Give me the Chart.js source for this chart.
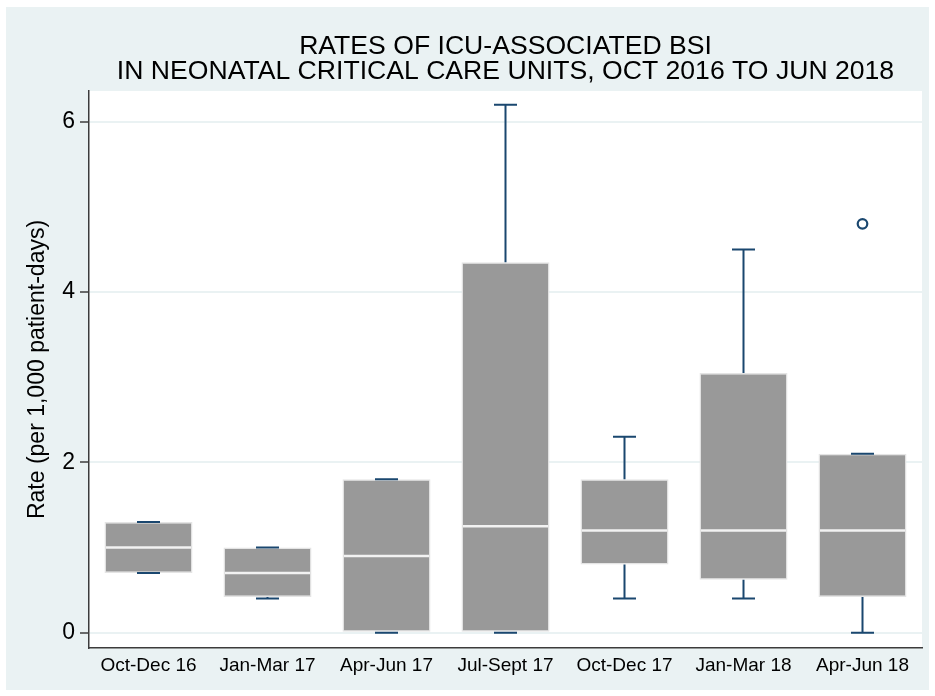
<!DOCTYPE html>
<html><head><meta charset="utf-8">
<script src="https://cdn.jsdelivr.net/npm/chart.js@4"></script>
<style>
html,body{margin:0;padding:0;background:#fff;}
#wrap{position:absolute;left:0;top:0;width:935px;height:696px;}
canvas{display:block;}
</style></head><body>
<div id="wrap"><canvas id="c" width="935" height="696"></canvas></div>
<script>
// ---- data ----
const categories = ['Oct-Dec 16','Jan-Mar 17','Apr-Jun 17','Jul-Sept 17','Oct-Dec 17','Jan-Mar 18','Apr-Jun 18'];
const whiskerLow  = [0.7, 0.4, 0.0, 0.0, 0.4, 0.4, 0.0];
const q1          = [0.7, 0.42, 0.0, 0.0, 0.8, 0.62, 0.42];
const median      = [1.0, 0.7, 0.9, 1.25, 1.2, 1.2, 1.2];
const q3          = [1.3, 1.0, 1.8, 4.35, 1.8, 3.05, 2.1];
const whiskerHigh = [1.3, 1.0, 1.8, 6.2, 2.3, 4.5, 2.1];
const outliers    = [null, null, null, null, null, null, 4.8];
const yTicks = [0, 2, 4, 6];
const titleLines = ['RATES OF ICU-ASSOCIATED BSI', 'IN NEONATAL CRITICAL CARE UNITS, OCT 2016 TO JUN 2018'];
const yTitle = 'Rate (per 1,000 patient-days)';

const FONT = '"Liberation Sans", Arial, Helvetica, sans-serif';
const NAVY = '#1a476f';
const BG = '#eaf2f3';

const bgPlugin = {
  id: 'bg',
  beforeDraw(chart) {
    const {ctx, chartArea: a} = chart;
    ctx.save();
    ctx.fillStyle = '#ffffff';
    ctx.fillRect(0, 0, chart.width, chart.height);
    ctx.fillStyle = BG;
    ctx.fillRect(6, 7, chart.width - 12, chart.height - 13);
    ctx.fillStyle = '#ffffff';
    ctx.fillRect(a.left, a.top, a.right - a.left, a.bottom - a.top);
    ctx.restore();
  }
};

const titlePlugin = {
  id: 'stataTitle',
  afterDraw(chart) {
    const {ctx, chartArea: a} = chart;
    const cx = (a.left + a.right) / 2;
    ctx.save();
    ctx.fillStyle = '#000';
    ctx.font = '26.6px ' + FONT;
    ctx.textAlign = 'center';
    ctx.textBaseline = 'alphabetic';
    ctx.fillText(titleLines[0], cx, 54);
    ctx.fillText(titleLines[1], cx, 79);
    ctx.restore();
  }
};

const boxPlugin = {
  id: 'boxParts',
  afterDatasetsDraw(chart) {
    const {ctx} = chart;
    const xs = chart.scales.x, ys = chart.scales.y;
    const bars = chart.getDatasetMeta(0).data;
    ctx.save();
    // medians
    ctx.strokeStyle = '#f2f2f2';
    ctx.lineWidth = 2.5;
    bars.forEach((b, i) => {
      const y = ys.getPixelForValue(median[i]);
      ctx.beginPath();
      ctx.moveTo(b.x - b.width / 2 + 1.5, y);
      ctx.lineTo(b.x + b.width / 2 - 1.5, y);
      ctx.stroke();
    });
    // whiskers and caps
    ctx.strokeStyle = NAVY;
    ctx.lineWidth = 2;
    const capHalf = 11.5;
    categories.forEach((c, i) => {
      const cx = xs.getPixelForValue(i);
      const yHi = ys.getPixelForValue(whiskerHigh[i]);
      const yLo = ys.getPixelForValue(whiskerLow[i]);
      const yQ3 = ys.getPixelForValue(q3[i]);
      const yQ1 = ys.getPixelForValue(q1[i]);
      ctx.beginPath();
      if (whiskerHigh[i] > q3[i]) { ctx.moveTo(cx, yQ3); ctx.lineTo(cx, yHi); }
      if (whiskerLow[i] < q1[i]) { ctx.moveTo(cx, yQ1); ctx.lineTo(cx, yLo); }
      ctx.moveTo(cx - capHalf, yHi); ctx.lineTo(cx + capHalf, yHi);
      ctx.moveTo(cx - capHalf, yLo); ctx.lineTo(cx + capHalf, yLo);
      ctx.stroke();
    });
    ctx.restore();
  }
};

new Chart(document.getElementById('c'), {
  type: 'bar',
  data: {
    labels: categories,
    datasets: [
      {
        type: 'bar',
        data: q1.map((v, i) => [v, q3[i]]),
        backgroundColor: '#999999',
        borderColor: '#e4e4e4',
        borderWidth: 1.5,
        borderSkipped: false,
        barPercentage: 0.74,
        categoryPercentage: 1.0
      },
      {
        type: 'line',
        data: outliers,
        showLine: false,
        pointRadius: 4.8,
        pointBorderWidth: 2.2,
        pointBorderColor: NAVY,
        pointBackgroundColor: 'rgba(0,0,0,0)'
      }
    ]
  },
  options: {
    responsive: false,
    animation: false,
    devicePixelRatio: 1,
    layout: { padding: { top: 91, right: 13, left: 0, bottom: 0 } },
    plugins: { legend: { display: false }, tooltip: { enabled: false }, title: { display: false } },
    scales: {
      x: {
        type: 'category',
        offset: true,
        afterFit(s) { s.height = 48; },
        grid: { display: false, drawTicks: false },
        border: { display: true, color: '#3c3c3c', width: 1.5 },
        ticks: { color: '#000', font: { family: FONT, size: 19 }, padding: 6, maxRotation: 0, autoSkip: false }
      },
      y: {
        type: 'linear',
        min: -0.18,
        max: 6.36,
        afterFit(s) { s.width = 89; },
        afterBuildTicks(s) { s.ticks = yTicks.map(v => ({ value: v })); },
        grid: { color: BG, lineWidth: 2, tickColor: '#3c3c3c', tickLength: 9, tickWidth: 1.5 },
        border: { display: true, color: '#3c3c3c', width: 1.5 },
        ticks: { color: '#000', font: { family: FONT, size: 23 }, padding: 5, callback: v => String(v) },
        title: { display: true, text: yTitle, color: '#000', font: { family: FONT, size: 23 }, padding: { top: 24, bottom: 0 } }
      }
    }
  },
  plugins: [bgPlugin, boxPlugin, titlePlugin]
});
</script>
</body></html>
